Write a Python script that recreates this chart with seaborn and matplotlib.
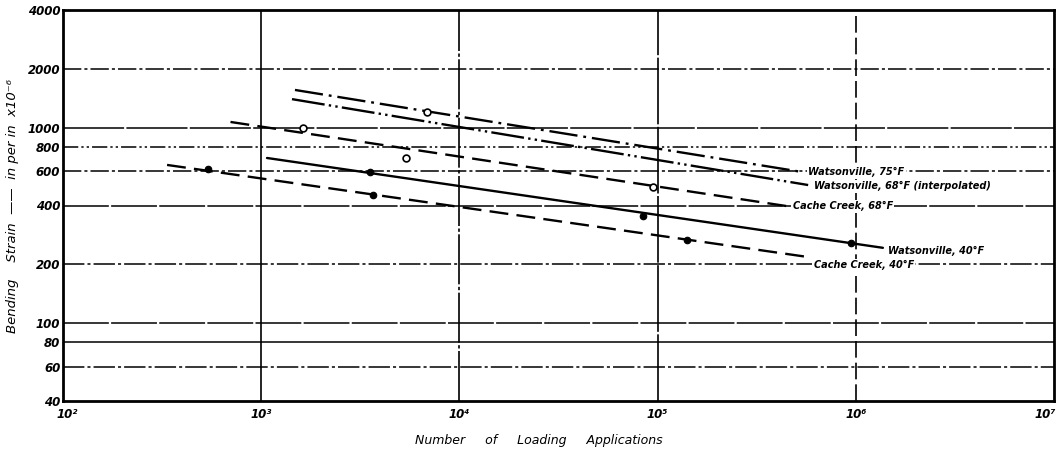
import numpy as np
import pandas as pd
import matplotlib
matplotlib.use("Agg")
import matplotlib.pyplot as plt
import matplotlib.transforms as mtransforms
import seaborn as sns

# ---------------- data ----------------
series = ["Watsonville, 75°F", "Watsonville, 68°F (interpolated)",
          "Cache Creek, 68°F", "Watsonville, 40°F", "Cache Creek, 40°F"]
line_n_start = [1480, 1430, 700, 1070, 335]
line_n_end = [540000, 575000, 450000, 1370000, 575000]
line_strain_start = [1560, 1400, 1070, 700, 645]
line_strain_end = [593, 509, 397, 243, 218]

point_series = ["Watsonville, 75°F",
                "Cache Creek, 68°F", "Cache Creek, 68°F", "Cache Creek, 68°F",
                "Watsonville, 40°F", "Watsonville, 40°F", "Watsonville, 40°F",
                "Cache Creek, 40°F", "Cache Creek, 40°F", "Cache Creek, 40°F"]
point_n = [6900, 1630, 5400, 95000, 3550, 84000, 950000, 540, 3650, 140000]
point_strain = [1200, 996, 700, 497, 593, 353, 257, 615, 453, 267]

y_ticks = [40, 60, 80, 100, 200, 400, 600, 800, 1000, 2000, 4000]
x_ticks = [1e2, 1e3, 1e4, 1e5, 1e6, 1e7]
x_tick_labels = ["10²", "10³", "10⁴", "10⁵", "10⁶", "10⁷"]

# ---------------- styles ----------------
open_series = {"Watsonville, 75°F", "Cache Creek, 68°F"}
dash_map = {
    "Watsonville, 75°F": (12, 2.5, 1.2, 2.5),
    "Watsonville, 68°F (interpolated)": (14, 1.8, 1, 1.8, 1, 1.8),
    "Cache Creek, 68°F": (8, 3.5),
    "Watsonville, 40°F": "",
    "Cache Creek, 40°F": (8, 3.5),
}
label_offsets = {
    "Watsonville, 75°F": (4, 0),
    "Watsonville, 68°F (interpolated)": (4, -1),
    "Cache Creek, 68°F": (4, 0),
    "Watsonville, 40°F": (4, -2),
    "Cache Creek, 40°F": (4, -6),
}
hgrid_styles = {
    60: (0, (14, 2, 2, 2)), 80: "-", 100: (0, (30, 1.5)), 200: (0, (14, 2, 2, 2)),
    400: (0, (30, 1.5)), 600: (0, (12, 2, 2, 2)), 800: (0, (10, 2, 1.5, 2, 1.5, 2)),
    1000: (0, (40, 1.5)), 2000: (0, (12, 2, 2, 2)),
}
vgrid_styles = {1e3: "-", 1e4: (0, (30, 1.5, 2, 1.5)), 1e5: (0, (40, 1.5)),
                1e6: (0, (10, 3))}

sns.set_theme(style="white")
plt.rcParams["font.family"] = ["DejaVu Sans"]

fig = plt.figure(figsize=(10.64, 4.55), dpi=100)
ax = fig.add_axes([63 / 1064, 1 - 401 / 455, (1054 - 63) / 1064, (401 - 10) / 455])

# grid lines
for yv, ls in hgrid_styles.items():
    ax.axhline(yv, color="black", lw=1.1, ls=ls, zorder=1)
for xv, ls in vgrid_styles.items():
    ax.axvline(xv, color="black", lw=1.2, ls=ls, zorder=1)

# lines
rows = []
for s, n0, n1, e0, e1 in zip(series, line_n_start, line_n_end,
                             line_strain_start, line_strain_end):
    rows.append({"series": s, "N": n0, "strain": e0})
    rows.append({"series": s, "N": n1, "strain": e1})
lines_df = pd.DataFrame(rows)
sns.lineplot(data=lines_df, x="N", y="strain", hue="series", style="series",
             palette={s: "black" for s in series}, dashes=dash_map,
             sort=False, estimator=None, legend=False, lw=1.7, ax=ax, zorder=3)

# points
pts = pd.DataFrame({"series": point_series, "N": point_n, "strain": point_strain})
pts["open"] = pts["series"].isin(open_series)
sns.scatterplot(data=pts[~pts["open"]], x="N", y="strain", color="black",
                s=22, marker="o", edgecolor="black", linewidth=0.8, ax=ax, zorder=4)
sns.scatterplot(data=pts[pts["open"]], x="N", y="strain", facecolor="white",
                s=24, marker="o", edgecolor="black", linewidth=1.2, ax=ax, zorder=4)

# labels at line ends
for s, n1, e1 in zip(series, line_n_end, line_strain_end):
    ax.annotate(s, xy=(n1, e1), xytext=label_offsets[s], textcoords="offset points",
                ha="left", va="center", fontsize=7, fontstyle="italic",
                fontweight="bold", color="black", zorder=5,
                bbox=dict(boxstyle="square,pad=0.15", fc="white", ec="none"))

ax.set_xscale("log")
ax.set_yscale("log")
ax.set_xlim(1e2, 1e7)
ax.set_ylim(40, 4000)
ax.set_xticks(x_ticks)
ax.set_xticklabels(x_tick_labels, fontsize=8.5, fontstyle="italic", fontweight="bold")
ax.set_yticks(y_ticks)
ax.set_yticklabels([str(v) for v in y_ticks], fontsize=8.5, fontstyle="italic",
                   fontweight="bold")
ax.minorticks_off()
ax.tick_params(axis="y", length=0, pad=2, colors="black")
ax.tick_params(axis="x", length=0, pad=5, colors="black")
# keep the last x tick label inside the figure, first slightly right
xlabels = ax.get_xticklabels()
xlabels[-1].set_transform(xlabels[-1].get_transform() +
                          mtransforms.ScaledTranslation(-6 / 72, 0, fig.dpi_scale_trans))
xlabels[0].set_transform(xlabels[0].get_transform() +
                         mtransforms.ScaledTranslation(3 / 72, 0, fig.dpi_scale_trans))
for sp in ax.spines.values():
    sp.set_color("black")
    sp.set_linewidth(2)
    sp.set_visible(True)

ax.set_xlabel("Number     of     Loading     Applications", fontsize=9,
              fontstyle="italic", color="black")
ax.xaxis.set_label_coords(0.48, -0.085)
ax.set_ylabel("Bending    Strain  ——  in per in  x10⁻⁶", fontsize=9.5,
              fontstyle="italic", labelpad=6, color="black")

fig.savefig("out.png", dpi=100, facecolor="white")
